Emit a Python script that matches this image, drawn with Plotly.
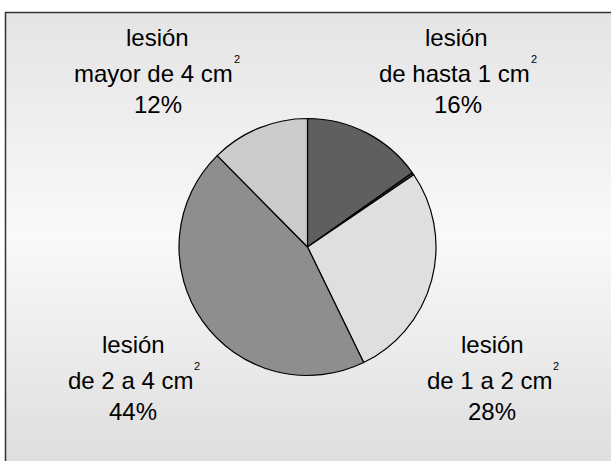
import plotly.graph_objects as go

W, H = 611, 461

# Data (slices clockwise from 12 o'clock)
slice_names = ["lesión de hasta 1 cm²", "", "lesión de 1 a 2 cm²", "lesión de 2 a 4 cm²", "lesión mayor de 4 cm²"]
slice_values = [15.2, 0.3, 27.3, 44.8, 12.4]
slice_colors = ["#5f5f5f", "#3a3a3a", "#dfdfdf", "#8e8e8e", "#cbcbcb"]

# Label text
label_heads = ["lesión", "lesión", "lesión", "lesión"]
label_sizes = ["mayor de 4 cm", "de hasta 1 cm", "de 2 a 4 cm", "de 1 a 2 cm"]
label_sup = "2"
label_pcts = ["12%", "16%", "44%", "28%"]

# layout positions (pixels): (x_head, x_main, x_sup, x_pct, y_head, y_main, y_sup, y_pct)
label_pos = [
    (157.5, 153.5, 237, 157.5, 37.6, 73.6, 59, 104.6),
    (456, 454, 533.5, 458, 37.6, 73.6, 59, 104.6),
    (133, 130, 197, 133, 344.6, 380.6, 366, 411.6),
    (492, 489, 556, 492, 344.6, 380.6, 366, 411.6),
]

def px(x):
    return x / W

def py(y):
    return 1 - y / H

cx, cy, r = 307.5, 247, 128.5

fig = go.Figure()
fig.add_trace(go.Pie(
    labels=slice_names,
    values=slice_values,
    sort=False,
    direction="clockwise",
    rotation=0,
    marker=dict(colors=slice_colors, line=dict(color="black", width=1.2)),
    textinfo="none",
    hoverinfo="skip",
    showlegend=False,
    domain=dict(x=[px(cx - r), px(cx + r)], y=[py(cy + r), py(cy - r)]),
))

# background gradient bands
shapes = []
top, mid, bot = 12, 235, 461
ctop, cmid, cbot = 228, 249, 222
step = 3
y = top
while y < H:
    yc = y + step / 2
    if yc <= mid:
        v = ctop + (cmid - ctop) * (yc - top) / (mid - top)
    else:
        v = cmid + (cbot - cmid) * (yc - mid) / (bot - mid)
    v = int(round(v))
    col = f"rgb({v},{v},{v})"
    shapes.append(dict(type="rect", xref="paper", yref="paper",
                       x0=px(5), x1=1.02, y0=py(min(y + step, H) + 0.5), y1=py(y),
                       fillcolor=col, line=dict(width=0), layer="below"))
    y += step
# frame
shapes.append(dict(type="rect", xref="paper", yref="paper",
                   x0=px(5.5), x1=1.05, y0=-0.05, y1=py(12.5),
                   line=dict(color="#333333", width=1.5), fillcolor="rgba(0,0,0,0)", layer="below"))

annotations = []
font = dict(family="Liberation Sans, Arial, sans-serif", size=24, color="black")
sfont = dict(family="Liberation Sans, Arial, sans-serif", size=11, color="black")
for head, size, pct, pos in zip(label_heads, label_sizes, label_pcts, label_pos):
    xh, xm, xs, xp, yh, ym, ys, yp = pos
    annotations.append(dict(text=head, x=px(xh), y=py(yh), xref="paper", yref="paper",
                            showarrow=False, font=font, xanchor="center", yanchor="middle"))
    annotations.append(dict(text=size, x=px(xm), y=py(ym), xref="paper", yref="paper",
                            showarrow=False, font=font, xanchor="center", yanchor="middle"))
    annotations.append(dict(text=label_sup, x=px(xs), y=py(ys), xref="paper", yref="paper",
                            showarrow=False, font=sfont, xanchor="center", yanchor="middle"))
    annotations.append(dict(text=pct, x=px(xp), y=py(yp), xref="paper", yref="paper",
                            showarrow=False, font=font, xanchor="center", yanchor="middle"))

fig.update_layout(
    width=W, height=H,
    margin=dict(l=0, r=0, t=0, b=0),
    paper_bgcolor="white",
    plot_bgcolor="white",
    shapes=shapes,
    annotations=annotations,
)

fig.write_html("out.html")
